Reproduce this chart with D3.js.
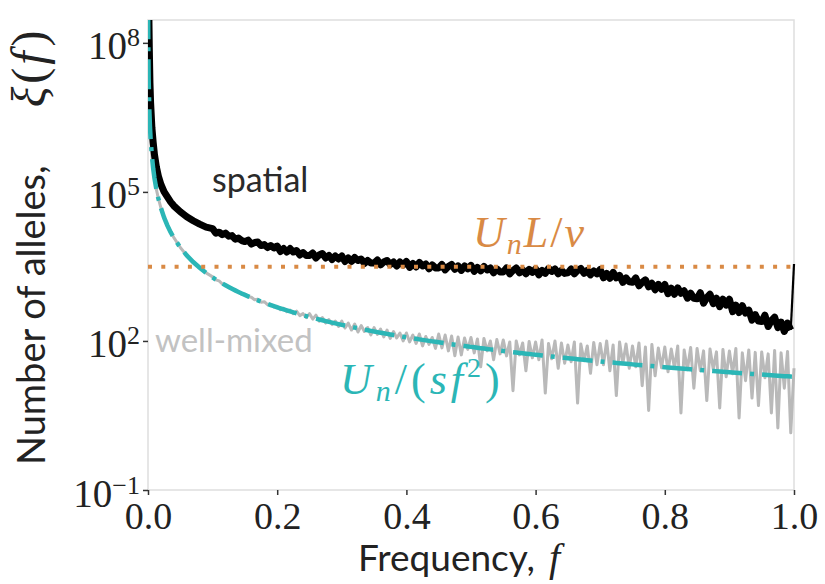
<!DOCTYPE html>
<html>
<head>
<meta charset="utf-8">
<script src="https://cdn.jsdelivr.net/npm/d3@7"></script>
<style>
  body { margin: 0; background: #fff; }
  svg { display: block; }
</style>
</head>
<body>
<svg id="chart" width="825" height="584"></svg>
<script>
// Site-frequency spectrum: number of alleles at each frequency f,
// spatial simulation vs. well-mixed population, with two theory lines.

// Frequencies: a fine set near f = 0, then a regular grid from 0.1 to 1.0.
const freqHead = [0.0002, 0.0005, 0.001, 0.002, 0.003, 0.004, 0.006, 0.008, 0.01, 0.013,
                  0.016, 0.02, 0.025, 0.03, 0.035, 0.04, 0.05, 0.06, 0.07, 0.08, 0.09];
const freqGrid = d3.range(181).map(i => Math.round((0.1 + i * 0.005) * 1000) / 1000);

// log10 of the allele counts, spatial simulation
const spatialHeadLog10 = [10.2, 9.4, 8.9, 7.9, 7.2, 6.8, 6.3, 6.0, 5.75, 5.5,
                          5.32, 5.15, 5.0, 4.9, 4.8, 4.72, 4.6, 4.5, 4.42, 4.35, 4.29];
const spatialGridLog10 = [
  4.26, 4.17, 4.19, 4.14, 4.17, 4.11, 4.12, 4.05, 4.07, 4.02,
  4.00, 4.03, 3.95, 3.98, 3.99, 3.92, 3.94, 3.88, 3.92, 3.87,
  3.91, 3.80, 3.86, 3.79, 3.86, 3.79, 3.82, 3.73, 3.78, 3.72,
  3.72, 3.77, 3.67, 3.73, 3.76, 3.67, 3.72, 3.64, 3.71, 3.65,
  3.71, 3.60, 3.67, 3.60, 3.68, 3.62, 3.65, 3.56, 3.62, 3.57,
  3.57, 3.63, 3.53, 3.59, 3.62, 3.54, 3.59, 3.51, 3.59, 3.53,
  3.60, 3.48, 3.56, 3.49, 3.58, 3.51, 3.55, 3.45, 3.53, 3.47,
  3.47, 3.54, 3.43, 3.50, 3.54, 3.44, 3.51, 3.42, 3.51, 3.45,
  3.52, 3.40, 3.48, 3.41, 3.50, 3.43, 3.47, 3.37, 3.45, 3.39,
  3.39, 3.47, 3.35, 3.42, 3.47, 3.37, 3.43, 3.35, 3.44, 3.38,
  3.45, 3.33, 3.42, 3.36, 3.46, 3.40, 3.45, 3.35, 3.42, 3.36,
  3.37, 3.45, 3.35, 3.42, 3.46, 3.36, 3.42, 3.33, 3.41, 3.35,
  3.44, 3.27, 3.36, 3.26, 3.38, 3.27, 3.32, 3.18, 3.27, 3.19,
  3.18, 3.27, 3.11, 3.18, 3.23, 3.09, 3.16, 3.03, 3.14, 3.04,
  3.14, 2.95, 3.06, 2.94, 3.07, 2.96, 3.01, 2.86, 2.96, 2.86,
  2.85, 2.97, 2.76, 2.87, 2.94, 2.75, 2.86, 2.69, 2.84, 2.72,
  2.84, 2.59, 2.72, 2.57, 2.71, 2.56, 2.62, 2.42, 2.53, 2.40,
  2.39, 2.52, 2.29, 2.41, 2.48, 2.27, 2.38, 2.19, 2.36, 2.22,
  3.55
];

// log10 of the allele counts, well-mixed population
const wellMixedHeadLog10 = [8.68, 7.88, 7.28, 6.68, 6.33, 6.08, 5.72, 5.47, 5.28, 5.05,
                            4.87, 4.68, 4.48, 4.33, 4.19, 4.08, 3.88, 3.72, 3.59, 3.47, 3.37];
const wellMixedGridLog10 = [
  3.29, 3.23, 3.21, 3.15, 3.13, 3.07, 3.06, 3.01, 2.99, 2.94,
  2.94, 2.89, 2.88, 2.83, 2.84, 2.78, 2.79, 2.73, 2.74, 2.68,
  2.70, 2.63, 2.66, 2.59, 2.62, 2.55, 2.60, 2.51, 2.55, 2.47,
  2.55, 2.44, 2.52, 2.40, 2.47, 2.36, 2.43, 2.33, 2.40, 2.29,
  2.40, 2.26, 2.36, 2.22, 2.34, 2.18, 2.31, 2.19, 2.27, 2.12,
  2.27, 2.13, 2.24, 2.08, 2.22, 2.05, 2.19, 2.06, 2.16, 2.00,
  2.16, 1.98, 2.12, 1.95, 2.14, 1.90, 2.09, 1.93, 2.07, 1.85,
  2.14, 1.86, 2.12, 1.80, 2.10, 1.70, 2.08, 1.72, 2.06, 1.83,
  2.07, 1.76, 2.04, 1.48, 2.05, 1.80, 2.00, 1.62, 2.03, 1.74,
  2.02, 1.70, 1.98, 1.00, 2.00, 1.72, 1.96, 1.40, 1.99, 1.66,
  1.98, 1.62, 2.02, 0.95, 1.95, 1.64, 2.00, 1.45, 1.96, 1.55,
  1.92, 1.58, 1.98, 0.75, 1.94, 1.60, 1.90, 1.35, 1.97, 1.52,
  1.95, 1.52, 2.00, 1.40, 1.92, 0.90, 1.98, 1.54, 1.94, 1.45,
  1.90, 1.48, 1.96, 1.10, 1.88, 0.60, 1.93, 1.30, 1.86, 1.46,
  1.88, 1.38, 1.84, 1.45, 1.90, 0.55, 1.82, 1.42, 1.87, 1.05,
  1.85, 1.40, 1.80, 0.80, 1.84, 1.43, 1.78, 0.65, 1.83, 1.28,
  1.80, 1.34, 1.85, 0.45, 1.76, 1.20, 1.82, 0.85, 1.77, 0.70,
  1.78, 1.26, 1.74, 0.55, 1.81, 0.25, 1.76, 1.05, 1.79, 0.15,
  1.45
];

// Theory constants
const unOverS = 19;     // U_n / s   -> well-mixed prediction U_n/(s f^2)
const unLOverV = 3100;  // U_n L / v -> spatial plateau

const xTicks = [0, 0.2, 0.4, 0.6, 0.8, 1.0];
const yTickExponents = [-1, 2, 5, 8];

// ---------------------------------------------------------------
const svg = d3.select("#chart");
const plot = { left: 148, right: 794, top: 20, bottom: 490 };

const x = d3.scaleLinear().domain([0, 1]).range([plot.left, plot.right]);
const y = d3.scaleLog().domain([0.1, Math.pow(10, 8.46)]).range([plot.bottom, plot.top]);

const freq = freqHead.concat(freqGrid);
const spatialLog10 = spatialHeadLog10.concat(spatialGridLog10);
const wellMixedLog10 = wellMixedHeadLog10.concat(wellMixedGridLog10);
const spatial = freq.map((f, i) => ({ f, v: Math.pow(10, spatialLog10[i]) }));
const wellMixed = freq.map((f, i) => ({ f, v: Math.pow(10, wellMixedLog10[i]) }));
const theory = freq.map(f => ({ f, v: unOverS / (f * f) }));

svg.append("rect").attr("width", 825).attr("height", 584).attr("fill", "#fff");

svg.append("defs").append("clipPath").attr("id", "plotClip")
  .append("rect")
  .attr("x", plot.left).attr("y", plot.top)
  .attr("width", plot.right - plot.left + 2).attr("height", plot.bottom - plot.top);

// frame
svg.append("rect")
  .attr("x", plot.left).attr("y", plot.top)
  .attr("width", plot.right - plot.left).attr("height", plot.bottom - plot.top)
  .attr("fill", "none").attr("stroke", "#dedede").attr("stroke-width", 1.5);

const line = d3.line().x(d => x(d.f)).y(d => y(d.v));
const g = svg.append("g").attr("clip-path", "url(#plotClip)");

g.append("path").datum(wellMixed)
  .attr("d", line).attr("fill", "none")
  .attr("stroke", "#b9b9b9").attr("stroke-width", 3).attr("stroke-linejoin", "round");

// spatial: dense noisy band, then the final step up at f = 1 as a thin stroke
g.append("path").datum(spatial.slice(0, -1))
  .attr("d", line).attr("fill", "none")
  .attr("stroke", "#000").attr("stroke-width", 7).attr("stroke-linejoin", "round");
g.append("path").datum(spatial.slice(-2))
  .attr("d", line).attr("fill", "none")
  .attr("stroke", "#000").attr("stroke-width", 2.2);

g.append("path").datum(theory)
  .attr("d", line).attr("fill", "none")
  .attr("stroke", "#2bb6b6").attr("stroke-width", 4.5)
  .attr("stroke-dasharray", "30,8,4,8");

g.append("line")
  .attr("x1", x(0)).attr("x2", x(1))
  .attr("y1", y(unLOverV)).attr("y2", y(unLOverV))
  .attr("stroke", "#d98a45").attr("stroke-width", 4)
  .attr("stroke-dasharray", "4,9.3");

// x axis
const gx = svg.append("g").attr("transform", `translate(0,${plot.bottom})`)
  .call(d3.axisBottom(x).tickValues(xTicks).tickSize(5).tickPadding(7).tickFormat(d3.format(".1f")));
gx.select(".domain").remove();
gx.selectAll(".tick line").attr("stroke", "#333").attr("stroke-width", 1.5);
gx.selectAll(".tick text")
  .attr("font-family", "'Liberation Serif', serif").attr("font-size", 38).attr("fill", "#222");

// y axis with powers of ten
const gy = svg.append("g").attr("transform", `translate(${plot.left},0)`)
  .call(d3.axisLeft(y).tickValues(yTickExponents.map(e => Math.pow(10, e))).tickSize(5).tickFormat(() => ""));
gy.select(".domain").remove();
gy.selectAll(".tick line").attr("stroke", "#333").attr("stroke-width", 1.5);
gy.selectAll(".tick text").each(function (d) {
  const e = Math.round(Math.log10(d));
  const t = d3.select(this)
    .attr("x", -8).attr("y", 16).attr("dy", null)
    .attr("text-anchor", "end")
    .attr("font-family", "'Liberation Serif', serif").attr("font-size", 39).attr("fill", "#222");
  t.text(null);
  t.append("tspan").text("10");
  t.append("tspan").attr("font-size", 26).attr("dy", -13)
    .text(e < 0 ? "\u2212" + Math.abs(e) : String(e));
});

// axis titles
const xl = svg.append("text")
  .attr("x", 358).attr("y", 571)
  .attr("font-family", "Lato, sans-serif").attr("font-size", 37).attr("fill", "#222");
xl.append("tspan").text("Frequency,");
xl.append("tspan").attr("dx", 14).attr("font-family", "'Liberation Serif', serif")
  .attr("font-style", "italic").attr("font-size", 40).text("f");

const yl = svg.append("text")
  .attr("transform", "translate(45,465) rotate(-90)")
  .attr("font-family", "Lato, sans-serif").attr("font-size", 38).attr("fill", "#222");
yl.append("tspan").text("Number of alleles,");
yl.append("tspan").attr("dx", 58).attr("font-family", "'Liberation Serif', serif")
  .attr("font-style", "italic").attr("font-size", 48).text("\u03BE");
yl.append("tspan").attr("dx", 3).attr("font-family", "'Liberation Serif', serif").attr("font-size", 48).text("(");
yl.append("tspan").attr("dx", 3).attr("font-family", "'Liberation Serif', serif")
  .attr("font-style", "italic").attr("font-size", 48).text("f");
yl.append("tspan").attr("dx", 5).attr("font-family", "'Liberation Serif', serif").attr("font-size", 48).text(")");

// series labels
svg.append("text").attr("x", 212).attr("y", 192)
  .attr("font-family", "Lato, sans-serif").attr("font-size", 34).attr("fill", "#2a2a2a")
  .text("spatial");
svg.append("text").attr("x", 155).attr("y", 352)
  .attr("font-family", "Lato, sans-serif").attr("font-size", 33).attr("fill", "#c2c2c2")
  .text("well-mixed");

// theory labels
const math = (sel, px, gap) => sel.attr("font-family", "'Liberation Serif', serif")
  .attr("font-size", px).attr("letter-spacing", gap);

const plateau = math(svg.append("text").attr("x", 473).attr("y", 247), 44, 2).attr("fill", "#d98a45");
plateau.append("tspan").attr("font-style", "italic").text("U");
plateau.append("tspan").attr("font-style", "italic").attr("font-size", 30).attr("dy", 7).text("n");
plateau.append("tspan").attr("font-style", "italic").attr("dy", -7).text("L");
plateau.append("tspan").text("/");
plateau.append("tspan").attr("font-style", "italic").text("v");

const model = math(svg.append("text").attr("x", 340).attr("y", 394), 44, 4).attr("fill", "#2bb6b6");
model.append("tspan").attr("font-style", "italic").text("U");
model.append("tspan").attr("font-style", "italic").attr("font-size", 30).attr("dy", 7).text("n");
model.append("tspan").attr("dy", -7).text("/(");
model.append("tspan").attr("font-style", "italic").text("sf");
model.append("tspan").attr("font-size", 28).attr("dy", -17).text("2");
model.append("tspan").attr("dy", 17).text(")");
</script>
</body>
</html>
